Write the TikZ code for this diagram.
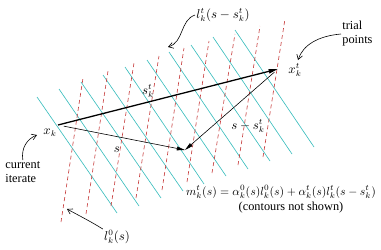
\documentclass[tikz,border=0pt]{standalone}
\usepackage{amsmath}
\usepackage{fontspec}
\setmainfont{Liberation Serif}
\usetikzlibrary{arrows.meta}
\definecolor{contourt}{RGB}{60,190,190}
\definecolor{contourz}{RGB}{200,65,65}

\begin{document}
\begin{tikzpicture}[x=0.03cm, y=-0.03cm,
    font=\fontsize{10.5}{12}\selectfont,
    levt/.style={contourt, line width=0.55pt},
    levz/.style={contourz, line width=0.55pt, dash pattern=on 3.4pt off 2.6pt},
    stepthick/.style={-{Triangle[length=8pt,width=3.6pt]}, line width=1.1pt},
    stepthin/.style={-{Triangle[length=7pt,width=3.2pt]}, line width=0.5pt},
    pointer/.style={-{Straight Barb[length=4pt,width=5pt]}, line width=0.5pt},
    lab/.style={inner sep=1pt}]
    \useasboundingbox (0,0) rectangle (381,250);

    % contours of l_k^t
    \draw[levt] (37,97) -- (117,213);
    \draw[levt] (59,89) -- (139,206);
    \draw[levt] (81,82) -- (161,198);
    \draw[levt] (103,75) -- (183,191);
    \draw[levt] (125,67) -- (204,184);
    \draw[levt] (147,60) -- (226,176);
    \draw[levt] (169,52) -- (248,169);
    \draw[levt] (191,45) -- (270,161);
    \draw[levt] (213,37) -- (292,154);
    \draw[levt] (235,30) -- (314,147);

    % contours of l_k^0
    \draw[levz] (61,222) -- (83,78);
    \draw[levz] (86,214) -- (108,71);
    \draw[levz] (111,206) -- (134,63);
    \draw[levz] (136,198) -- (159,56);
    \draw[levz] (162,190) -- (184,48);
    \draw[levz] (187,182) -- (209,41);
    \draw[levz] (212,173) -- (235,34);
    \draw[levz] (238,165) -- (260,26);
    \draw[levz] (263,157) -- (285,19);

    \coordinate (xk) at (58,125);
    \coordinate (xt) at (278,69);
    \coordinate (mk) at (185,150);

    \draw[stepthick] (xk) -- (xt);
    \draw[stepthin, shorten <=5pt] (xk) -- (mk);
    \draw[stepthin, shorten <=4pt] (xt) -- (mk);

    \node[lab](xklab) at (50,133) {$x_k$};
    \node[lab](xtlab) at (295,70) {$x_k^t$};
    \node[lab](stlab) at (148,91) {$s_k^t$};
    \node[lab](slab) at (117,150) {$s$};
    \node[lab](smlab) at (248,126) {$s - s_k^t$};

    \node[lab](ltlab) at (223,15) {$l_k^t(s - s_k^t)$};
    \node[lab](l0lab) at (117,237) {$l_k^0(s)$};
    \node[lab, anchor=west, align=left](triallab) at (341,34) {trial\\points};
    \node[lab, anchor=west, align=left](curlab) at (4,172) {current\\iterate};

    \node[lab, font=\fontsize{9.8}{12}\selectfont](mlab) at (281,192)
        {$m_k^t(s) = \alpha_k^0(s) l_k^0(s) + \alpha_k^t(s) l_k^t(s - s_k^t)$};
    \node[lab](cnslab) at (291,208) {(contours not shown)};

    \coordinate (ltend) at (168,47);
    \coordinate (trialend) at (298,60);
    \coordinate (curend) at (37,135);
    \coordinate (l0end) at (67,209);

    \draw[pointer] (ltlab.west) .. controls (180,20) and (184,42) .. (ltend);
    \draw[pointer] (triallab.west) .. controls (318,36) and (303,45) .. (trialend);
    \draw[pointer] (curlab.north) .. controls (21,148) and (27,139) .. (curend);
    \draw[pointer] (l0lab.north west) .. controls (90,221) and (76,214) .. (l0end);
\end{tikzpicture}
\end{document}
